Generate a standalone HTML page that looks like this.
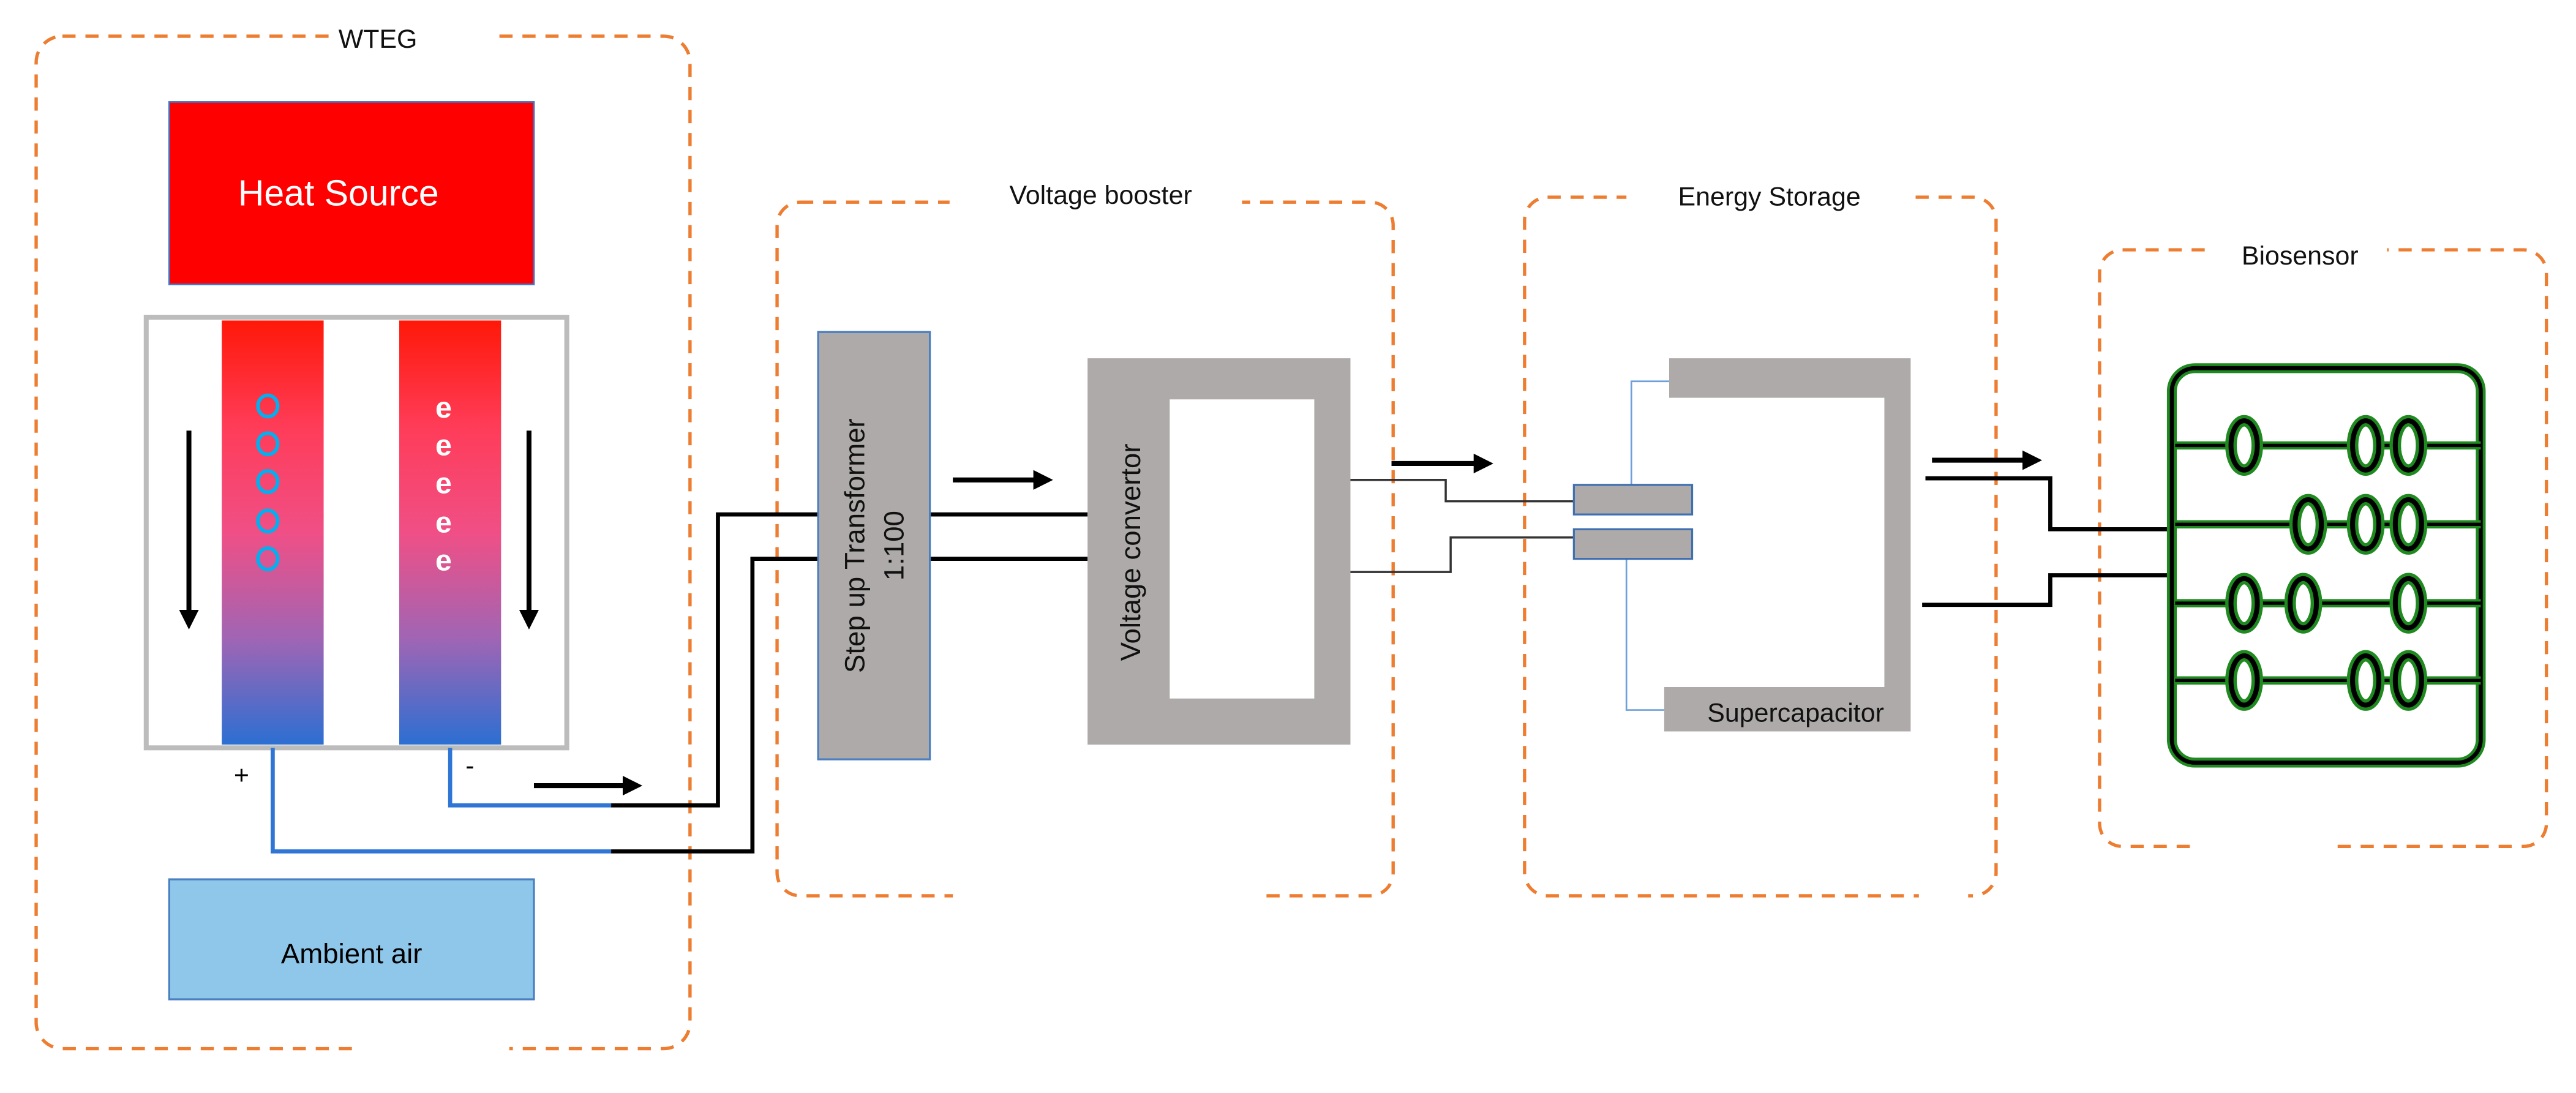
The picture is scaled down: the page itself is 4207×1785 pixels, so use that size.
<!DOCTYPE html>
<html><head><meta charset="utf-8"><style>html,body{margin:0;padding:0;background:#fff}svg{display:block}</style></head><body>
<svg width="4207" height="1785" viewBox="0 0 1568 665" preserveAspectRatio="none" xmlns="http://www.w3.org/2000/svg" font-family="'Liberation Sans', sans-serif">
<defs>
<linearGradient id="g" x1="0" y1="0" x2="0" y2="1">
<stop offset="0" stop-color="#ff1808"/><stop offset="0.25" stop-color="#ff3c58"/><stop offset="0.5" stop-color="#f04f86"/><stop offset="0.75" stop-color="#a065b4"/><stop offset="1" stop-color="#2c6fd2"/>
</linearGradient>
<marker id="ah" markerWidth="4" markerHeight="4" refX="3" refY="2" orient="auto" markerUnits="strokeWidth"><path d="M0,0 L4,2 L0,4 z" fill="#000"/></marker>
</defs>
<g fill="none" stroke="#ed7d31" stroke-width="2" stroke-dasharray="8 6">
<rect x="22" y="22" width="398" height="616" rx="16"/>
<rect x="473" y="123" width="375" height="422" rx="14"/>
<rect x="928" y="120" width="287" height="425" rx="14"/>
<rect x="1278" y="152" width="272" height="363" rx="14"/>
</g>
<g fill="#fff">
<rect x="205" y="12" width="97" height="20"/><rect x="215" y="630" width="95" height="16"/>
<rect x="578" y="110" width="178" height="22"/><rect x="580" y="537" width="190" height="16"/>
<rect x="990" y="108" width="176" height="22"/><rect x="1168" y="537" width="30" height="16"/>
<rect x="1345" y="142" width="108" height="22"/><rect x="1335" y="507" width="85" height="16"/>
</g>
<g font-size="16" fill="#111" text-anchor="middle">
<text x="230" y="29">WTEG</text>
<text x="670" y="124">Voltage booster</text>
<text x="1077" y="125">Energy Storage</text>
<text x="1400" y="161">Biosensor</text>
</g>
<rect x="103" y="62" width="222" height="111" fill="#ff0000" stroke="#4472c4" stroke-width="1"/>
<text x="206" y="125" font-size="22" fill="#fff" text-anchor="middle">Heat Source</text>
<rect x="89" y="193" width="256" height="262" fill="#fff" stroke="#bcbcbc" stroke-width="3"/>
<rect x="135" y="195" width="62" height="258" fill="url(#g)"/>
<rect x="243" y="195" width="62" height="258" fill="url(#g)"/>
<g fill="none" stroke="#00b0f0" stroke-width="2.2">
<ellipse cx="163" cy="247" rx="6" ry="6.5"/><ellipse cx="163" cy="270" rx="6" ry="6.5"/><ellipse cx="163" cy="293" rx="6" ry="6.5"/><ellipse cx="163" cy="317" rx="6" ry="6.5"/><ellipse cx="163" cy="340" rx="6" ry="6.5"/>
</g>
<g font-size="18" fill="#fff" text-anchor="middle" font-weight="bold">
<text x="270" y="254">e</text><text x="270" y="277">e</text><text x="270" y="300">e</text><text x="270" y="324">e</text><text x="270" y="347">e</text>
</g>
<g stroke="#000" stroke-width="3" marker-end="url(#ah)">
<line x1="115" y1="262" x2="115" y2="380"/>
<line x1="322" y1="262" x2="322" y2="380"/>
<line x1="325" y1="478" x2="388" y2="478"/>
<line x1="580" y1="292" x2="638" y2="292"/>
<line x1="847" y1="282" x2="906" y2="282"/>
<line x1="1176" y1="280" x2="1240" y2="280"/>
</g>
<text x="147" y="477" font-size="16" fill="#000" text-anchor="middle">+</text>
<text x="286" y="471" font-size="16" fill="#000" text-anchor="middle">-</text>
<g fill="none" stroke="#2e75d6" stroke-width="2.5">
<polyline points="166,455 166,518 372,518"/>
<polyline points="274,455 274,490 372,490"/>
</g>
<g fill="none" stroke="#000" stroke-width="2.5">
<polyline points="372,518 458,518 458,340 662,340"/>
<polyline points="372,490 437,490 437,313 662,313"/>
</g>
<rect x="103" y="535" width="222" height="73" fill="#8ec7ea" stroke="#4a7fc1" stroke-width="1.2"/>
<text x="214" y="586" font-size="17" fill="#000" text-anchor="middle">Ambient air</text>
<rect x="498" y="202" width="68" height="260" fill="#aeaaa9" stroke="#4a7fc1" stroke-width="1.2"/>
<g font-size="17" fill="#111" text-anchor="middle">
<text transform="translate(526,332) rotate(-90)">Step up Transformer</text>
<text transform="translate(550,332) rotate(-90)">1:100</text>
</g>
<path d="M662,218 H822 V453 H662 Z M712,243 V425 H800 V243 Z" fill="#aeaaa9" fill-rule="evenodd"/>
<text transform="translate(694,336) rotate(-90)" font-size="17" fill="#111" text-anchor="middle">Voltage convertor</text>
<g fill="none" stroke="#333" stroke-width="1.3">
<polyline points="822,292 880,292 880,305 958,305"/>
<polyline points="822,348 883,348 883,327 958,327"/>
</g>
<g fill="none" stroke="#6fa0dc" stroke-width="1">
<polyline points="1016,232 993,232 993,295"/>
<polyline points="990,340 990,432 1013,432"/>
</g>
<path d="M1016,218 H1163 V445 H1013 V418 H1147 V242 H1016 Z" fill="#aeaaa9"/>
<text x="1093" y="439" font-size="16" fill="#111" text-anchor="middle">Supercapacitor</text>
<rect x="958" y="295" width="72" height="18" fill="#aeaaa9" stroke="#3e6fb0" stroke-width="1.2"/>
<rect x="958" y="322" width="72" height="18" fill="#aeaaa9" stroke="#3e6fb0" stroke-width="1.2"/>
<g fill="none" stroke="#000" stroke-width="2.5">
<polyline points="1172,291 1248,291 1248,322 1322,322"/>
<polyline points="1170,368 1248,368 1248,350 1322,350"/>
</g>
<g fill="none">
<rect x="1322" y="224" width="188" height="240" rx="14" stroke="#1f8a1f" stroke-width="6"/>
<rect x="1322" y="224" width="188" height="240" rx="14" stroke="#000" stroke-width="2.5"/>
<g stroke="#1f8a1f" stroke-width="5">
<line x1="1324" y1="271" x2="1510" y2="271"/><line x1="1324" y1="319" x2="1510" y2="319"/><line x1="1324" y1="367" x2="1510" y2="367"/><line x1="1324" y1="414" x2="1510" y2="414"/>
</g>
<g stroke="#000" stroke-width="2">
<line x1="1324" y1="271" x2="1510" y2="271"/><line x1="1324" y1="319" x2="1510" y2="319"/><line x1="1324" y1="367" x2="1510" y2="367"/><line x1="1324" y1="414" x2="1510" y2="414"/>
</g>
</g>
<g fill="#fff" stroke="#1f8a1f" stroke-width="7">
<ellipse cx="1366" cy="271" rx="8" ry="15"/><ellipse cx="1440" cy="271" rx="8" ry="15"/><ellipse cx="1466" cy="271" rx="8" ry="15"/>
<ellipse cx="1405" cy="319" rx="8" ry="15"/><ellipse cx="1440" cy="319" rx="8" ry="15"/><ellipse cx="1466" cy="319" rx="8" ry="15"/>
<ellipse cx="1366" cy="367" rx="8" ry="15"/><ellipse cx="1402" cy="367" rx="8" ry="15"/><ellipse cx="1466" cy="367" rx="8" ry="15"/>
<ellipse cx="1366" cy="414" rx="8" ry="15"/><ellipse cx="1440" cy="414" rx="8" ry="15"/><ellipse cx="1466" cy="414" rx="8" ry="15"/>
</g>
<g fill="none" stroke="#000" stroke-width="3">
<ellipse cx="1366" cy="271" rx="8" ry="15"/><ellipse cx="1440" cy="271" rx="8" ry="15"/><ellipse cx="1466" cy="271" rx="8" ry="15"/>
<ellipse cx="1405" cy="319" rx="8" ry="15"/><ellipse cx="1440" cy="319" rx="8" ry="15"/><ellipse cx="1466" cy="319" rx="8" ry="15"/>
<ellipse cx="1366" cy="367" rx="8" ry="15"/><ellipse cx="1402" cy="367" rx="8" ry="15"/><ellipse cx="1466" cy="367" rx="8" ry="15"/>
<ellipse cx="1366" cy="414" rx="8" ry="15"/><ellipse cx="1440" cy="414" rx="8" ry="15"/><ellipse cx="1466" cy="414" rx="8" ry="15"/>
</g>
</svg>
</body></html>
